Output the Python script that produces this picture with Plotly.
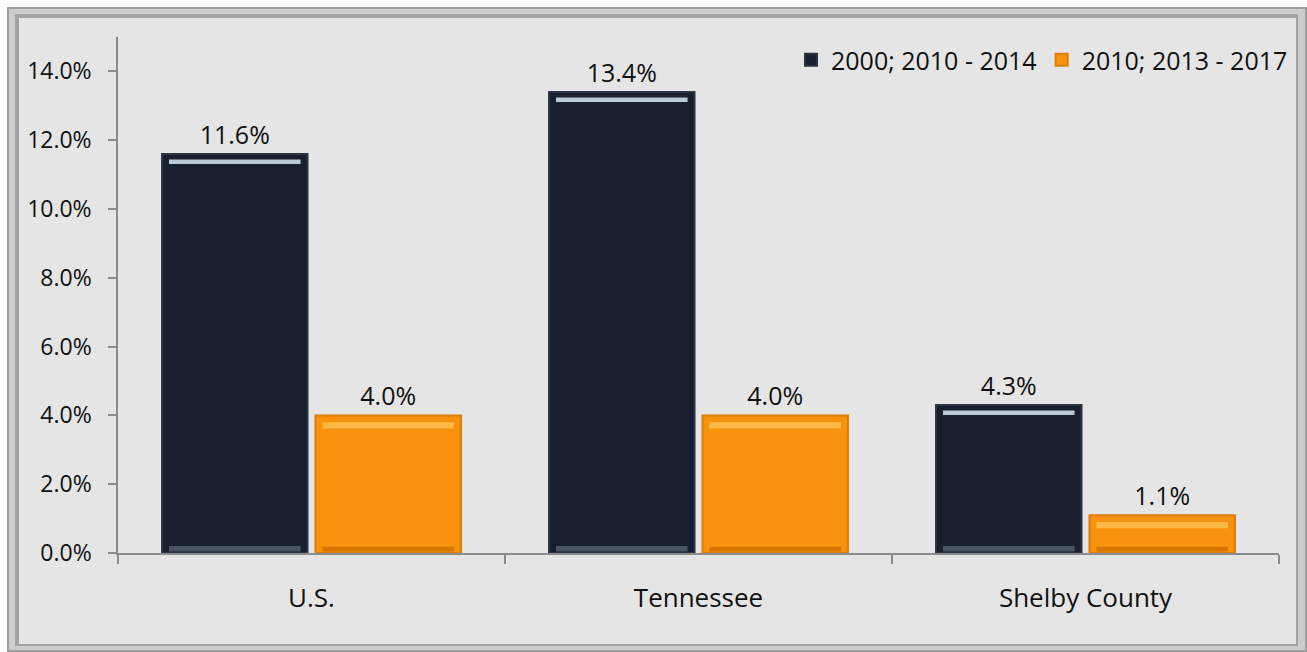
import plotly.graph_objects as go

# Population growth by geography
categories = ["U.S.", "Tennessee", "Shelby County"]
series_names = ["2000; 2010 - 2014", "2010; 2013 - 2017"]
growth_2000_2014 = [11.6, 13.4, 4.3]
growth_2010_2017 = [4.0, 4.0, 1.1]
y_tick_values = [0, 2, 4, 6, 8, 10, 12, 14]
y_tick_labels = ["0.0%", "2.0%", "4.0%", "6.0%", "8.0%", "10.0%", "12.0%", "14.0%"]

W, H = 1307, 652
ML, MR, MT, MB = 118, 28, 37, 99
PW, PH = W - ML - MR, H - MT - MB

FONT = "Open Sans"
INK = "#111111"


def px(x):
    return (x - ML) / PW


def py(y):
    return (H - MB - y) / PH


fig = go.Figure()


def main_bars(values, name, group, color, edge):
    fig.add_trace(go.Bar(
        x=categories, y=values, name=name, offsetgroup=group,
        marker=dict(color=color, line=dict(color=edge, width=2)),
        text=[f"{v:.1f}%" for v in values], textposition="outside",
        textfont=dict(family=FONT, size=25, color=INK), cliponaxis=False,
    ))


def bevel(values, group, base_shift, thickness, color, width):
    # thin glossy strip laid over each bar of a series
    fig.add_trace(go.Bar(
        x=categories, y=[thickness] * len(values),
        base=[(v + base_shift) if base_shift < 0 else base_shift for v in values],
        offsetgroup=group, width=width, showlegend=False, hoverinfo="skip",
        marker=dict(color=color, line=dict(width=0)),
    ))


main_bars(growth_2000_2014, series_names[0], "a", "#18202f", "#2b3443")
main_bars(growth_2010_2017, series_names[1], "b", "#f7920d", "#de7c04")
bevel(growth_2000_2014, "a", -0.29, 0.13, "rgba(205,218,235,0.9)", 0.34)
bevel(growth_2000_2014, "a", 0.04, 0.16, "rgba(80,90,108,0.9)", 0.34)
bevel(growth_2010_2017, "b", -0.38, 0.18, "rgba(255,190,80,0.85)", 0.34)
bevel(growth_2010_2017, "b", 0.04, 0.14, "rgba(205,110,0,0.8)", 0.34)

# Beveled frame around the chart
frame = [
    (7, 7, 1310, 655, "#9e9e9e"),
    (9, 9, 1305, 650, "#cdcdcd"),
    (15, 14, 1298, 646, "#a3a3a3"),
    (19, 18, 1296, 644, "#e5e5e5"),
]
shapes = []
for x0, y0, x1, y1, c in frame:
    shapes.append(dict(type="rect", xref="paper", yref="paper",
                       x0=px(x0), x1=px(x1), y0=py(y1), y1=py(y0),
                       fillcolor=c, line=dict(width=0), layer="below"))

fig.update_layout(
    width=W, height=H,
    margin=dict(l=ML, r=MR, t=MT, b=MB),
    paper_bgcolor="white", plot_bgcolor="rgba(0,0,0,0)",
    barmode="group", bargap=0.207, bargroupgap=0.052,
    shapes=shapes,
    font=dict(family=FONT, size=24, color=INK),
    showlegend=True,
    legend=dict(orientation="h", x=px(1293), xanchor="right", y=py(60), yanchor="middle",
                bgcolor="rgba(0,0,0,0)", font=dict(family=FONT, size=25, color=INK),
                itemwidth=30, traceorder="normal"),
    xaxis=dict(showline=True, linecolor="#8c8c8c", linewidth=1.5,
               ticks="outside", ticklen=9, tickcolor="#8c8c8c", tickwidth=1.5,
               tickson="boundaries", showgrid=False, zeroline=False,
               ticklabelstandoff=21, tickfont=dict(family=FONT, size=26, color=INK)),
    yaxis=dict(range=[0, 15], tickvals=y_tick_values, ticktext=y_tick_labels,
               showline=True, linecolor="#8c8c8c", linewidth=1.5,
               ticks="outside", ticklen=8, tickcolor="#8c8c8c", tickwidth=1.5,
               showgrid=False, zeroline=False, ticklabelstandoff=12,
               tickfont=dict(family=FONT, size=23, color=INK)),
)

fig.write_html("out.html")
